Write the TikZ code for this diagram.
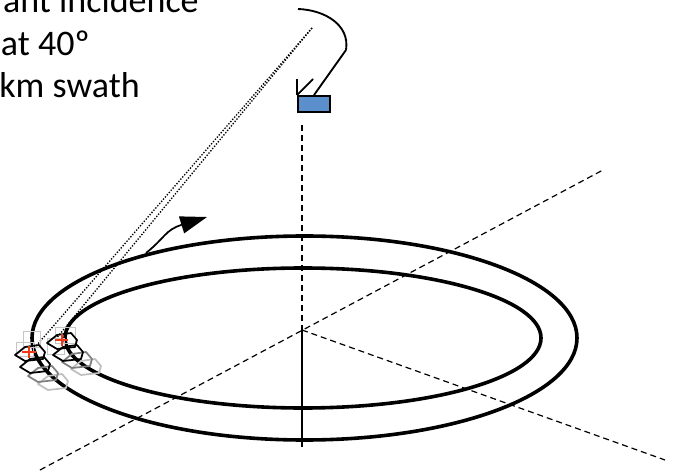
\documentclass[tikz,border=0pt]{standalone}
\usepackage{fontspec}
\setmainfont{Carlito}
\usetikzlibrary{arrows.meta, positioning}
\definecolor{satblue}{HTML}{5B8FCB}
\definecolor{spotred}{HTML}{F03A17}
\newcommand{\hexcell}[3]{\draw[#3] (#1,#2) ++(-15,2) -- ++(10,-8) -- ++(14,-2) -- ++(6,7) -- ++(-2,7) -- ++(-18,2) -- cycle;}
\begin{document}
\begin{tikzpicture}[x=0.75pt, y=-0.75pt,
  ring/.style={draw, line width=2.7pt},
  caption/.style={font=\fontsize{27}{32}\selectfont, anchor=base east, inner sep=0pt},
  guide/.style={draw, line width=0.9pt, dash pattern=on 4.5pt off 3pt},
  beam/.style={draw, line width=1pt, dash pattern=on 1pt off 1.2pt},
  mast/.style={draw, line width=1.4pt},
  sat/.style={rectangle, draw, line width=1.4pt, fill=satblue, minimum width=24pt, minimum height=12pt, inner sep=0pt},
  cell/.style={draw, line width=1.3pt, line join=round},
  cellfar/.style={draw=gray, line width=1.3pt, line join=round},
  cellfaint/.style={draw=gray!50, line width=1.3pt, line join=round},
  footbox/.style={draw=gray!45, line width=0.7pt},
  spot/.style={draw=spotred, line width=2pt}]
  \useasboundingbox (0,0) rectangle (673,473);

  % captions, cut by the page edge
  \node[caption] (cap1) at (199,13) {ant incidence};
  \node[caption] (cap2) at (90,56)  {at 40º};
  \node[caption] (cap3) at (140,98) {km swath};

  % orbit rings
  \coordinate (centre) at (304.5,338);
  \draw[ring] (centre) ellipse (272.5 and 102);
  \draw[ring] (303,338) ellipse (238 and 70);

  % ground axes
  \node[sat] (sat) at (314,104) {};
  \coordinate (nadir) at (302,330);
  \coordinate (nadirend) at (302,447);
  \coordinate (axisa) at (40,470);
  \coordinate (axisb) at (603,170);
  \coordinate (axisc) at (665,460);
  \draw[guide] (302,125) -- (nadir);
  \draw[line width=1.1pt] (nadir) -- (nadirend);
  \draw[guide] (axisa) -- (axisb);
  \draw[guide] (nadir) -- (axisc);

  % antenna
  \coordinate (dish) at (346,50);
  \coordinate (dishtop) at (298,9);
  \draw[mast] (sat.north west) -- ++(0,-16);
  \draw[mast] (sat.north west) -- ++(16,-16);
  \draw[mast] (sat.north) -- (dish);
  \draw[mast] (dish) .. controls (350,25) and (325,10) .. (dishtop);

  % beams
  \coordinate (beamtop) at (312,28);
  \coordinate (spota) at (30,353);
  \coordinate (spotb) at (55,340);
  \draw[beam] (beamtop) -- (spota);
  \draw[beam] (beamtop) -- (spotb);

  % direction of travel
  \coordinate (flightstart) at (146,253);
  \coordinate (flightend) at (207,217);
  \draw[line width=1.3pt, -{Triangle[length=20pt, width=13pt]}] (flightstart) .. controls (165,238) and (165,230) .. (flightend);

  % footprints
  \draw[footbox] (16,342) rectangle (33,356);
  \draw[footbox] (23,331) rectangle (40,347);
  \draw[footbox] (47,338) rectangle (64,354);
  \draw[footbox] (55,327) rectangle (75,343);
  \hexcell{53}{382}{cellfaint}
  \hexcell{86}{367}{cellfaint}
  \hexcell{43}{374}{cellfar}
  \hexcell{77}{360}{cellfar}
  \hexcell{30}{353}{cell}
  \hexcell{35}{365}{cell}
  \hexcell{62}{341}{cell}
  \hexcell{68}{353}{cell}
  \draw[spot] (22,352) -- (36,352) (29,346) -- (29,358);
  \draw[spot] (55,340) -- (68,340) (62,334) -- (62,346);
\end{tikzpicture}
\end{document}
